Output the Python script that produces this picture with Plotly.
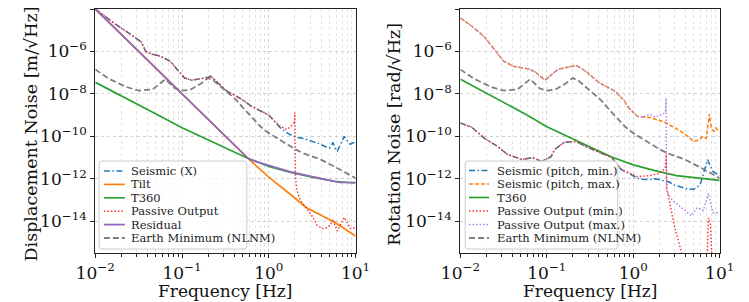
import plotly.graph_objects as go

W, H = 749, 302
FONT = "DejaVu Serif"

# ---------------- Left panel: displacement noise (m/√Hz) ----------------
seis_x_f = [0.01, 0.0135, 0.017, 0.0234, 0.0282, 0.0339, 0.0372, 0.0389, 0.0468, 0.0562,
            0.0724, 0.0832, 0.0933, 0.107, 0.129, 0.155, 0.2, 0.214, 0.257, 0.331,
            0.398, 0.49, 0.631, 0.794, 1.0, 1.17, 1.35, 1.58, 1.74, 2.09,
            2.51, 3.16, 3.8, 4.47, 5.01, 5.5, 5.89, 6.17, 6.92, 7.41,
            7.94, 8.71, 9.33, 10.0]
seis_x_v = [1.0e-4, 3.98e-5, 1.95e-5, 8.1e-6, 4.5e-6, 2.75e-6, 1.26e-6, 9.3e-7, 7.1e-7, 6.0e-7,
            3.5e-7, 1.78e-7, 1.0e-7, 5.6e-8, 4.4e-8, 4.9e-8, 6.0e-8, 6.8e-8, 3.5e-8, 1.32e-8,
            8.9e-9, 5.5e-9, 2.6e-9, 1.58e-9, 1.0e-9, 5.0e-10, 2.6e-10, 1.58e-10, 1.23e-10, 8.9e-11,
            7.9e-11, 5.75e-11, 4.5e-11, 3.3e-11, 2.8e-11, 5.1e-11, 2.5e-11, 2.0e-11, 5.0e-11, 1.0e-10,
            6.3e-11, 4.2e-11, 5.0e-11, 5.0e-11]

tilt_f = [0.01, 0.1, 0.589, 1.0, 1.4, 1.9, 2.69, 3.72, 5.75, 10.0]
tilt_v = [1.0e-4, 1.0e-8, 8.3e-12, 1.18e-12, 4.0e-13, 1.45e-13, 4.4e-14, 2.2e-14, 8.9e-15, 2.0e-15]

t360_l_f = [0.01, 0.0178, 0.0316, 0.0562, 0.1, 0.178, 0.316, 0.562, 1.0, 1.78, 3.16, 5.62, 10.0]
t360_l_v = [3.5e-8, 1.05e-8, 3.2e-9, 8.9e-10, 2.5e-10, 8.5e-11, 2.8e-11, 9.5e-12, 3.8e-12, 2.0e-12,
            1.2e-12, 7.6e-13, 6.3e-13]

passive_f = seis_x_f[:26] + [1.35, 1.62, 1.9, 1.97, 2.0, 2.02, 2.09, 2.3, 2.7, 3.2,
                             3.6, 4.2, 4.8, 5.5, 6.17, 7.41, 8.71, 10.0]
passive_v = seis_x_v[:26] + [2.95e-10, 2.1e-10, 3.6e-10, 5.0e-10, 1.35e-9, 1.8e-12, 3.2e-13, 1.0e-13, 4.0e-14, 1.6e-14,
                             6.3e-15, 4.5e-15, 5.0e-15, 1.05e-14, 3.5e-15, 1.5e-14, 4.5e-15, 5.0e-15]

resid_f = [0.01, 0.1, 0.398, 0.589, 0.794, 1.0, 1.78, 3.16, 5.62, 6.5, 10.0]
resid_v = [1.0e-4, 1.0e-8, 4.0e-11, 8.5e-12, 5.6e-12, 4.2e-12, 2.1e-12, 1.26e-12, 7.9e-13, 6.8e-13, 6.5e-13]

# Earth minimum (NLNM), same curve in both panels
nlnm_f = [0.01, 0.0143, 0.0222, 0.0316, 0.0457, 0.0641, 0.0833, 0.1, 0.125, 0.167,
          0.2, 0.233, 0.316, 0.417, 0.5, 0.631, 0.806, 1.0, 1.25, 2.0,
          2.5, 4.0, 5.88, 10.0]
nlnm_v = [1.41e-7, 5.2e-8, 2.2e-8, 1.41e-8, 1.62e-8, 4.9e-8, 1.78e-8, 1.41e-8, 1.58e-8, 3.2e-8,
          5.6e-8, 4.1e-8, 1.41e-8, 5.4e-9, 2.3e-9, 7.9e-10, 2.8e-10, 1.41e-10, 7.9e-11, 2.5e-11,
          1.58e-11, 7.9e-12, 3.5e-12, 1.07e-12]

# ---------------- Right panel: rotation noise (rad/√Hz) ----------------
pitch_min_f = [0.01, 0.0135, 0.019, 0.027, 0.035, 0.052, 0.068, 0.087, 0.112, 0.123,
               0.158, 0.219, 0.282, 0.407, 0.562, 0.724, 1.12, 1.3, 1.55, 1.8,
               2.19, 2.6, 3.0, 3.63, 4.3, 5.0, 5.5, 6.03, 7.24, 8.32, 10.0]
pitch_min_v = [4.2e-10, 2.7e-10, 8.0e-11, 3.3e-11, 1.4e-11, 8.1e-12, 1.0e-11, 6.5e-12, 1.1e-11, 2.4e-11,
               5.1e-11, 5.75e-11, 3.3e-11, 1.74e-11, 1.0e-11, 2.75e-12, 1.07e-12, 9.5e-13, 9.1e-13, 1.0e-12,
               8.3e-13, 7.0e-13, 5.0e-13, 3.8e-13, 3.2e-13, 3.2e-13, 4.0e-13, 6.3e-13, 7.9e-12, 2.2e-12, 1.4e-12]

pitch_max_f = [0.01, 0.0135, 0.019, 0.0245, 0.0316, 0.041, 0.063, 0.074, 0.095, 0.135,
               0.17, 0.219, 0.282, 0.398, 0.617, 0.794, 0.851, 1.12, 1.55, 2.34,
               3.55, 4.27, 5.0, 5.5, 6.46, 7.0, 7.59, 8.0, 8.51, 9.0, 10.0]
pitch_max_v = [3.7e-5, 1.58e-5, 4.8e-6, 1.29e-6, 3.5e-7, 2.0e-7, 1.45e-7, 1.05e-7, 4.4e-8, 1.45e-7,
               1.8e-7, 2.2e-7, 1.17e-7, 3.5e-8, 1.32e-8, 4.5e-9, 2.6e-9, 8.7e-10, 7.8e-10, 4.5e-10,
               1.7e-10, 1.0e-10, 5.75e-11, 6.3e-11, 1.0e-10, 7.9e-11, 1.1e-9, 2.5e-10, 1.7e-10, 2.5e-10, 1.6e-10]

t360_r_f = [0.01, 0.0178, 0.0316, 0.0562, 0.1, 0.178, 0.316, 0.562, 1.0, 1.78, 3.16, 5.62, 10.0]
t360_r_v = [4.9e-8, 1.35e-8, 4.0e-9, 1.12e-9, 2.8e-10, 9.5e-11, 3.2e-11, 1.05e-11, 4.5e-12, 2.4e-12,
            1.4e-12, 1.05e-12, 8.3e-13]

pass_min_f = pitch_min_f[:16] + [1.12, 1.55, 2.0, 2.34, 2.4, 2.45, 2.82, 3.02, 3.55, 3.9,
                                 6.8, 7.2, 7.41, 7.8, 8.2]
pass_min_v = pitch_min_v[:16] + [1.26e-12, 1.4e-12, 1.8e-12, 3.2e-12, 1.6e-11, 3.2e-13, 2.5e-14, 5.0e-15, 4.5e-16, 1.0e-16,
                                 1.0e-16, 3.0e-16, 1.4e-14, 7.9e-15, 1.0e-16]

pass_max_f = pitch_max_f[:18] + [1.3, 1.55, 1.8, 2.0, 2.2, 2.36, 2.4, 2.42, 2.82, 3.63,
                                 4.68, 5.5, 6.46, 7.41, 8.32, 10.0]
pass_max_v = pitch_max_v[:18] + [8.0e-10, 1.1e-9, 8.0e-10, 1.0e-9, 1.1e-9, 1.35e-9, 6.3e-9, 2.75e-13, 1.0e-13, 4.4e-14,
                                 1.8e-14, 4.4e-14, 3.2e-14, 2.0e-13, 2.5e-14, 2.5e-14]

# tick labels
x_tickvals = [0.01, 0.1, 1, 10]
x_ticktext = ["10<sup>−2</sup>", "10<sup>−1</sup>", "10<sup>0</sup>", "10<sup>1</sup>"]
y_tickvals = [1e-14, 1e-12, 1e-10, 1e-8, 1e-6, 1e-4]
y_ticktext = ["10<sup>−14</sup>", "10<sup>−12</sup>", "10<sup>−10</sup>",
              "10<sup>−8</sup>", "10<sup>−6</sup>", "10<sup>−4</sup>"]

# ---------------- styles ----------------
BLUE, ORANGE, GREEN, PURPLE, GRAY = "#1f77b4", "#ff7f0e", "#2ca02c", "#9467bd", "#7f7f7f"
RED, LILAC = "#ff2b2b", "#a77ee6"
DASHDOT = "6px,2.5px,1.5px,2.5px"
DOT = "1.5px,2px"
DASH = "6px,3px"
ODASH = "4px,2px"

left_series = [
    ("Seismic (X)", seis_x_f, seis_x_v, BLUE, DASHDOT, 1.5),
    ("Tilt", tilt_f, tilt_v, ORANGE, "solid", 1.7),
    ("T360", t360_l_f, t360_l_v, GREEN, "solid", 1.7),
    ("Passive Output", passive_f, passive_v, RED, DOT, 1.4),
    ("Residual", resid_f, resid_v, PURPLE, "solid", 1.8),
    ("Earth Minimum (NLNM)", nlnm_f, nlnm_v, GRAY, DASH, 1.8),
]
right_series = [
    ("Seismic (pitch, min.)", pitch_min_f, pitch_min_v, BLUE, DASHDOT, 1.5),
    ("Seismic (pitch, max.)", pitch_max_f, pitch_max_v, ORANGE, ODASH, 1.5),
    ("T360", t360_r_f, t360_r_v, GREEN, "solid", 1.7),
    ("Passive Output (min.)", pass_min_f, pass_min_v, RED, DOT, 1.4),
    ("Passive Output (max.)", pass_max_f, pass_max_v, LILAC, DOT, 1.4),
    ("Earth Minimum (NLNM)", nlnm_f, nlnm_v, GRAY, DASH, 1.8),
]

fig = go.Figure()
for xa, ya, series in (("x", "y", left_series), ("x2", "y2", right_series)):
    for name, f, v, color, dash, width in series:
        fig.add_trace(go.Scatter(x=f, y=v, mode="lines", name=name, xaxis=xa, yaxis=ya,
                                 line=dict(color=color, dash=dash, width=width),
                                 showlegend=False, hoverinfo="skip"))

minor_x = [m * 10.0 ** e for e in (-2, -1, 0) for m in range(2, 10)]
TICKFONT = dict(family=FONT, size=17, color="#111")

def xaxis_cfg(domain, anchor):
    return dict(type="log", range=[-2, 1], domain=domain, anchor=anchor,
                tickmode="array", tickvals=x_tickvals, ticktext=x_ticktext,
                ticks="outside", ticklen=4, tickwidth=1, tickcolor="#222",
                showline=True, linecolor="#222", linewidth=1.2, mirror=True,
                showgrid=True, gridcolor="#d2d2d2", griddash="dot", gridwidth=1,
                zeroline=False, tickfont=TICKFONT,
                minor=dict(tickmode="array", tickvals=minor_x, ticks="outside", ticklen=2.5,
                           tickwidth=0.8, tickcolor="#222", showgrid=True,
                           gridcolor="#e3e3e3", griddash="dot", gridwidth=1))

def yaxis_cfg(anchor):
    return dict(type="log", range=[-15.5, -4], domain=[1 - 253 / H, 1 - 9 / H], anchor=anchor,
                tickmode="array", tickvals=y_tickvals, ticktext=y_ticktext,
                ticks="outside", ticklen=4, tickwidth=1, tickcolor="#222",
                showline=True, linecolor="#222", linewidth=1.2, mirror=True,
                showgrid=True, gridcolor="#d2d2d2", griddash="dot", gridwidth=1,
                zeroline=False, tickfont=TICKFONT)

ann = []
shapes = []
# axis titles
for xc in ((79 + 352) / 2, (462 + 734) / 2):
    ann.append(dict(text="Frequency [Hz]", x=xc / W, y=0, xref="paper", yref="paper",
                    xanchor="center", yanchor="bottom", showarrow=False, yshift=-1,
                    font=dict(family=FONT, size=17, color="#111")))
for xc, txt in ((12, "Displacement Noise [m/√Hz]"), (392, "Rotation Noise [rad/√Hz]")):
    ann.append(dict(text=txt, x=xc / W, y=1 - 134 / H, xref="paper", yref="paper",
                    xanchor="center", yanchor="middle", showarrow=False, textangle=-90,
                    font=dict(family=FONT, size=17.5, color="#111")))

# legends drawn as boxes with sample lines and labels
def add_legend(series, box, row0, step, sx0, sx1, tx, fsize):
    x0, y0, x1, y1 = box
    r = 3
    X0, X1 = x0 / W, x1 / W
    Y0, Y1 = 1 - y0 / H, 1 - y1 / H
    rx, ry = r / W, r / H
    path = (f"M {X0+rx},{Y0} L {X1-rx},{Y0} Q {X1},{Y0} {X1},{Y0-ry} L {X1},{Y1+ry} "
            f"Q {X1},{Y1} {X1-rx},{Y1} L {X0+rx},{Y1} Q {X0},{Y1} {X0},{Y1+ry} "
            f"L {X0},{Y0-ry} Q {X0},{Y0} {X0+rx},{Y0} Z")
    shapes.append(dict(type="path", path=path, xref="paper", yref="paper",
                       fillcolor="rgba(255,255,255,0.8)", line=dict(color="#cccccc", width=1)))
    for i, (name, f, v, color, dash, width) in enumerate(series):
        yy = 1 - (row0 + i * step) / H
        shapes.append(dict(type="line", xref="paper", yref="paper", x0=sx0 / W, x1=sx1 / W,
                           y0=yy, y1=yy, line=dict(color=color, dash=dash, width=width)))
        ann.append(dict(text=name, x=tx / W, y=yy, xref="paper", yref="paper",
                        xanchor="left", yanchor="middle", showarrow=False,
                        font=dict(family=FONT, size=fsize, color="#222")))

add_legend(left_series, (83, 161, 238, 249), 171, 13.4, 88, 110, 114, 11.5)
add_legend(right_series, (467, 161, 627, 249), 170.5, 13.5, 471, 492, 498, 11.5)

fig.update_layout(
    width=W, height=H, margin=dict(l=0, r=0, t=0, b=0),
    paper_bgcolor="white", plot_bgcolor="white",
    xaxis=xaxis_cfg([79 / W, 352 / W], "y"),
    yaxis=yaxis_cfg("x"),
    xaxis2=xaxis_cfg([462 / W, 734 / W], "y2"),
    yaxis2=yaxis_cfg("x2"),
    annotations=ann, shapes=shapes, showlegend=False,
)

fig.write_html("out.html")
